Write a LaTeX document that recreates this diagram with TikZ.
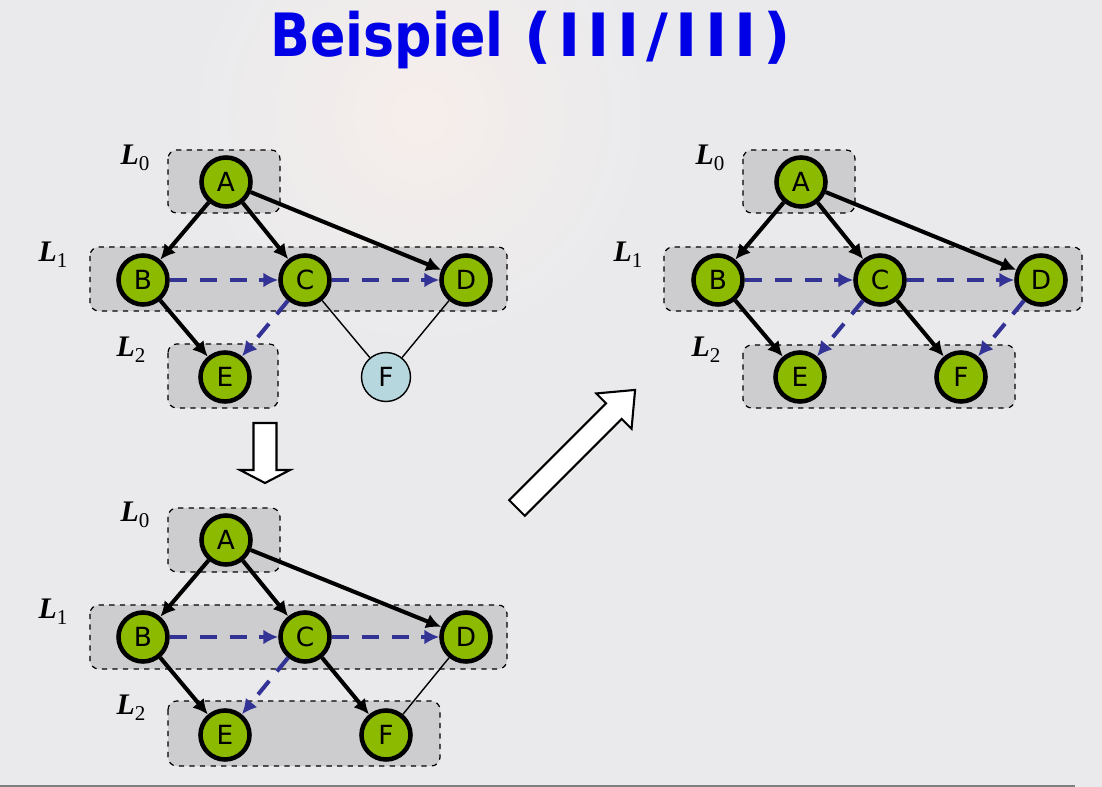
\documentclass[tikz,border=0pt]{standalone}
\usepackage{fontspec}
\usepackage{graphicx}
\setmainfont{Liberation Serif}
\newfontfamily\dejavu{DejaVu Sans}
\usetikzlibrary{arrows.meta,positioning,calc}
\definecolor{titleblue}{RGB}{0,0,230}
\definecolor{nodegreen}{RGB}{140,186,0}
\definecolor{lightcyan}{RGB}{183,215,222}
\definecolor{dashblue}{RGB}{51,51,150}
\definecolor{boxgray}{RGB}{200,200,204}
\definecolor{bggray}{RGB}{234,234,237}
\definecolor{glow}{RGB}{246,238,234}

\tikzset{
    vert/.style={draw, circle, line width=2.6pt, fill=nodegreen, minimum size=0.98cm, inner sep=0pt, font=\dejavu\fontsize{15}{18}\selectfont},
    free/.style={draw, circle, line width=0.8pt, fill=lightcyan, minimum size=0.98cm, inner sep=0pt, font=\dejavu\fontsize{15}{18}\selectfont},
    tree/.style={line width=2.3pt, -{Latex[length=8.5pt,width=8.5pt]}},
    cross/.style={line width=2.3pt, dashblue, dash pattern=on 10pt off 7pt, -{Latex[length=8.5pt,width=8.5pt]}},
    plain/.style={line width=0.8pt},
    layerbox/.style={draw, dashed, line width=0.7pt, rounded corners=5pt, fill=boxgray, fill opacity=0.85},
    layerlabel/.style={font=\fontsize{17}{20}\selectfont},
    hollow/.style={draw, line width=1.2pt, fill=white, line join=miter}
}
\newcommand{\lev}[1]{\textbf{\textit{L}}\raisebox{-0.45ex}{\fontsize{12}{14}\selectfont #1}}

\begin{document}
\begin{tikzpicture}[x=0.02cm, y=-0.02cm]
    % background
    \useasboundingbox (0,0) rectangle (1102,787);
    \clip (0,0) rectangle (1102,787);
    \fill[bggray] (0,0) rectangle (1102,787);
    \shade[inner color=glow, outer color=bggray] (420,115) circle (230);
    \draw[gray, line width=1.2pt] (0,786) -- (1075,786);

    % title
    \node[font=\dejavu\bfseries\fontsize{34}{40}\selectfont, text=titleblue, inner sep=0pt, anchor=base west] (title) at (270,57)
        {\scalebox{0.875}[1]{Beispiel} {\addfontfeature{LetterSpace=12}(III/III)}};

    % ---- step 1 (top left) ----
    \draw[layerbox] (168,150) rectangle (280,213);
    \draw[layerbox] (90,247) rectangle (507,311);
    \draw[layerbox] (168,344) rectangle (278,408);
    \node[layerlabel] (l0a) at (135,158) {\lev{0}};
    \node[layerlabel] (l1a) at (53,255) {\lev{1}};
    \node[layerlabel] (l2a) at (131,350) {\lev{2}};

    \node[vert] (a1) at (226,182) {A};
    \node[vert] (b1) at (143,280) {B};
    \node[vert] (c1) at (305,280) {C};
    \node[vert] (d1) at (466,280) {D};
    \node[vert] (e1) at (225,377) {E};
    \node[free] (f1) at (386,377) {F};

    \draw[tree] (a1) -- (b1);
    \draw[tree] (a1) -- (c1);
    \draw[tree] (a1) -- (d1);
    \draw[cross] (b1) -- (c1);
    \draw[cross] (c1) -- (d1);
    \draw[tree] (b1) -- (e1);
    \draw[cross] (c1) -- (e1);
    \draw[plain] (c1) -- (f1);
    \draw[plain] (d1) -- (f1);

    % ---- step 2 (bottom left) ----
    \draw[layerbox] (168,508) rectangle (280,572);
    \draw[layerbox] (90,605) rectangle (507,669);
    \draw[layerbox] (168,701) rectangle (440,766);
    \node[layerlabel] (l0b) at (135,515) {\lev{0}};
    \node[layerlabel] (l1b) at (53,612) {\lev{1}};
    \node[layerlabel] (l2b) at (131,708) {\lev{2}};

    \node[vert] (a2) at (226,540) {A};
    \node[vert] (b2) at (143,637) {B};
    \node[vert] (c2) at (305,637) {C};
    \node[vert] (d2) at (466,637) {D};
    \node[vert] (e2) at (225,735) {E};
    \node[vert] (f2) at (386,735) {F};

    \draw[tree] (a2) -- (b2);
    \draw[tree] (a2) -- (c2);
    \draw[tree] (a2) -- (d2);
    \draw[cross] (b2) -- (c2);
    \draw[cross] (c2) -- (d2);
    \draw[tree] (b2) -- (e2);
    \draw[cross] (c2) -- (e2);
    \draw[tree] (c2) -- (f2);
    \draw[plain] (d2) -- (f2);

    % ---- step 3 (top right) ----
    \draw[layerbox] (743,150) rectangle (855,213);
    \draw[layerbox] (664,247) rectangle (1082,311);
    \draw[layerbox] (743,345) rectangle (1015,408);
    \node[layerlabel] (l0c) at (710,158) {\lev{0}};
    \node[layerlabel] (l1c) at (628,255) {\lev{1}};
    \node[layerlabel] (l2c) at (706,350) {\lev{2}};

    \node[vert] (a3) at (801,182) {A};
    \node[vert] (b3) at (718,280) {B};
    \node[vert] (c3) at (880,280) {C};
    \node[vert] (d3) at (1041,280) {D};
    \node[vert] (e3) at (800,377) {E};
    \node[vert] (f3) at (961,377) {F};

    \draw[tree] (a3) -- (b3);
    \draw[tree] (a3) -- (c3);
    \draw[tree] (a3) -- (d3);
    \draw[cross] (b3) -- (c3);
    \draw[cross] (c3) -- (d3);
    \draw[tree] (b3) -- (e3);
    \draw[cross] (c3) -- (e3);
    \draw[tree] (c3) -- (f3);
    \draw[cross] (d3) -- (f3);

    % hollow arrows between the steps
    \draw[hollow] (253.5,423) -- (276.5,423) -- (276.5,470) -- (290,470) -- (265,483)
        -- (240,470) -- (253.5,470) -- cycle;
    \begin{scope}[shift={(517,508)}, rotate=45]
        \draw[hollow] (0,-11) -- (137,-11) -- (137,-25) -- (167,0) -- (137,25) -- (137,11) -- (0,11) -- cycle;
    \end{scope}
\end{tikzpicture}
\end{document}
